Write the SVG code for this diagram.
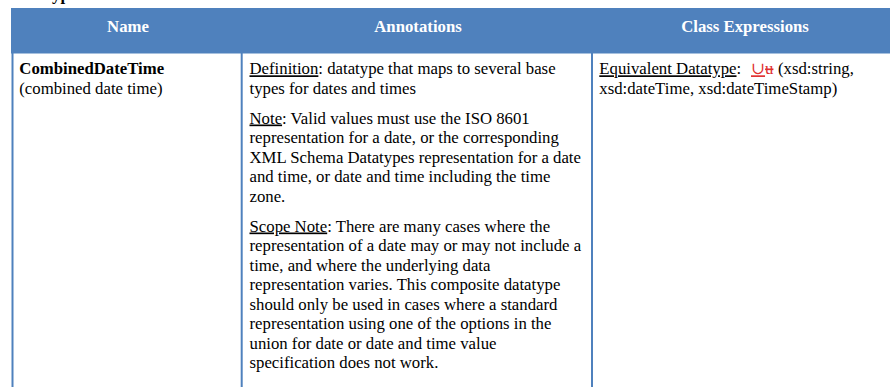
<svg xmlns="http://www.w3.org/2000/svg" width="890" height="387" viewBox="0 0 890 387">
<style>
text { font-size: 16.75px; fill: #000; }
.hd { font-weight: bold; fill: #FFFFFF; text-anchor: middle; }
.b { font-weight: bold; }
.u { text-decoration: underline; }
.red { fill: #E03030; }
.grid { stroke: #4F81BD; stroke-width: 2; fill: none; }
</style>
<rect width="890" height="387" fill="#FFFFFF"/>
<g font-family="'Liberation Serif', 'DejaVu Serif', serif">
<text class="b" x="12" y="-0.5">Datatypes</text>
<g id="header">
  <rect x="11" y="8" width="879" height="45.5" fill="#4F81BD"/>
  <text class="hd" x="128" y="32">Name</text>
  <text class="hd" x="418" y="32">Annotations</text>
  <text class="hd" x="745" y="32">Class Expressions</text>
</g>
<g id="grid">
  <line class="grid" x1="12.5" y1="53" x2="12.5" y2="387"/>
  <line class="grid" x1="241.7" y1="53" x2="241.7" y2="387"/>
  <line class="grid" x1="592" y1="53" x2="592" y2="387"/>
</g>
<g id="name-cell">
  <text class="b" x="19.3" y="74.3">CombinedDateTime</text>
  <text x="19.3" y="93.8">(combined date time)</text>
</g>
<g id="annotations-cell" xml:space="preserve">
  <text x="249.5" y="74.3"><tspan class="u">Definition</tspan>: datatype that maps to several base</text>
  <text x="249.5" y="93.8">types for dates and times</text>
  <text x="249.5" y="123.5"><tspan class="u">Note</tspan>: Valid values must use the ISO 8601</text>
  <text x="249.5" y="143">representation for a date, or the corresponding</text>
  <text x="249.5" y="162.5">XML Schema Datatypes representation for a date</text>
  <text x="249.5" y="182">and time, or date and time including the time</text>
  <text x="249.5" y="201.5">zone.</text>
  <text x="249.5" y="231.5"><tspan class="u">Scope Note</tspan>: There are many cases where the</text>
  <text x="249.5" y="251">representation of a date may or may not include a</text>
  <text x="249.5" y="270.5">time, and where the underlying data</text>
  <text x="249.5" y="290">representation varies.  This composite datatype</text>
  <text x="249.5" y="309.5">should only be used in cases where a standard</text>
  <text x="249.5" y="329">representation using one of the options in the</text>
  <text x="249.5" y="348.5">union for date or date and time value</text>
  <text x="249.5" y="368">specification does not work.</text>
</g>
<g id="class-expressions-cell" xml:space="preserve">
  <text x="599.3" y="74.3"><tspan class="u">Equivalent Datatype</tspan>:<tspan x="751" class="red u">∪</tspan><tspan class="red" style="text-decoration: line-through">u</tspan><tspan x="778">(xsd:string,</tspan></text>
  <text x="599.3" y="93.8">xsd:dateTime, xsd:dateTimeStamp)</text>
</g>
</g>
</svg>
